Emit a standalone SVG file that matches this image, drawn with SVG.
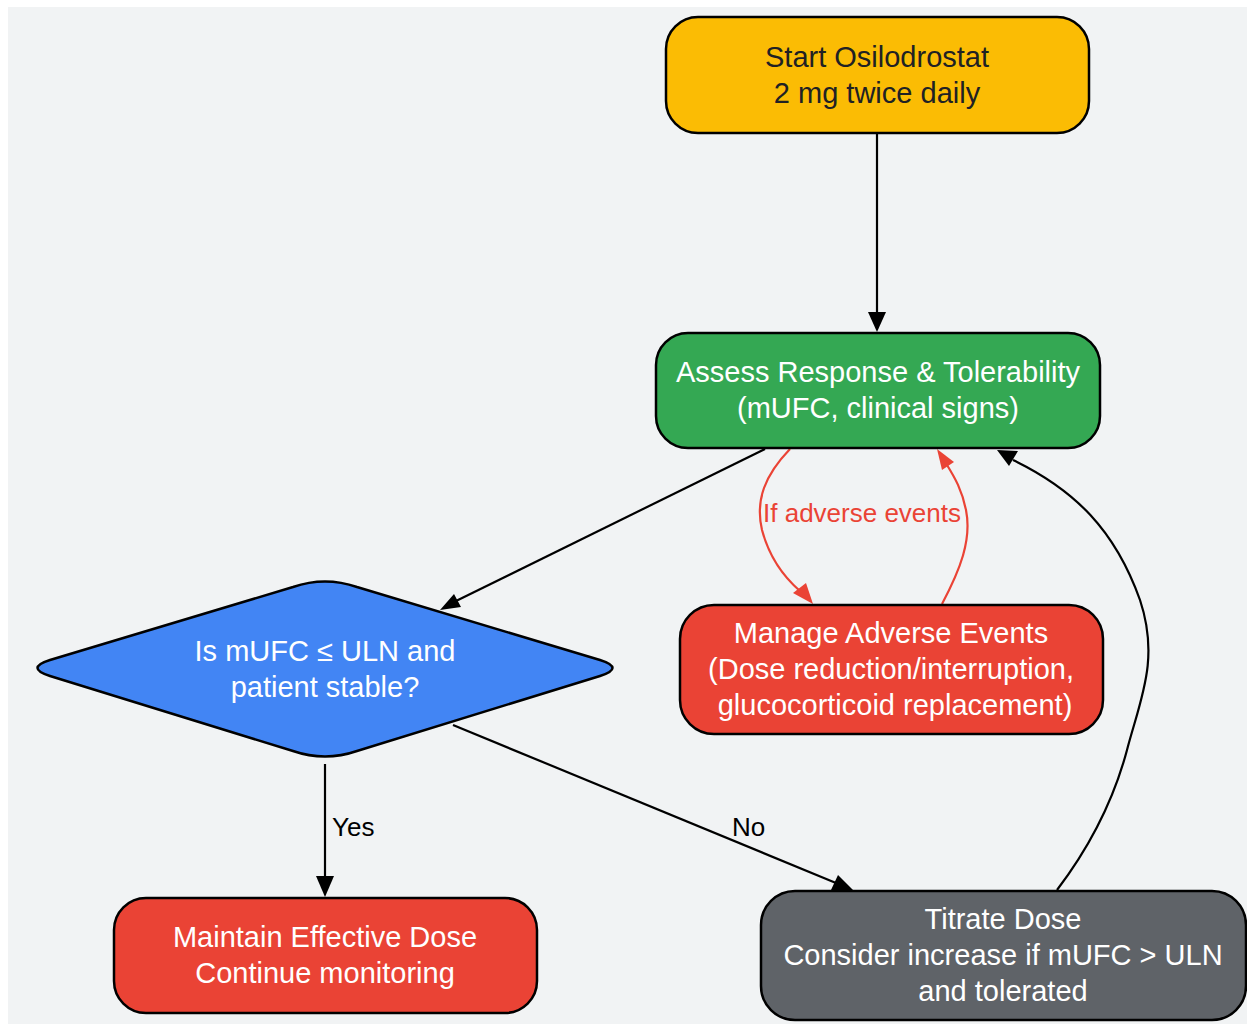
<svg xmlns="http://www.w3.org/2000/svg" width="1247" height="1024" viewBox="0 0 1247 1024">
<defs>
<style>
.node{stroke:#000;stroke-width:2.5}
.t{font-family:"Liberation Sans",Arial,sans-serif;font-size:29px;text-anchor:middle}
.w{fill:#fff}
.e{fill:none;stroke:#000;stroke-width:2.2}
.r{fill:none;stroke:#ea4335;stroke-width:2.2}
.lbl{font-family:"Liberation Sans",Arial,sans-serif;font-size:26px}
</style>
</defs>
<rect x="0" y="0" width="1247" height="1024" fill="#ffffff"/>
<rect x="8" y="7" width="1239" height="1017" fill="#f1f3f4"/>
<g id="connectors">
<path class="e" d="M765,449 L456,601"/>
<path d="M440,610 L454,594 L461,607 z" fill="#000"/>
<path class="e" d="M877,133 L877,314"/>
<path d="M877,332 L868,312 L886,312 z" fill="#000"/>
<path class="r" d="M790,449 C765,475 755,500 762,530 C770,560 785,578 800,591"/>
<path d="M813,604 L793,593 L806,583 z" fill="#ea4335"/>
<path class="r" d="M942,604 C960,570 972,540 966,510 C962,490 955,478 947,465"/>
<path d="M937,449 L954,462 L942,470 z" fill="#ea4335"/>
<path class="e" d="M325,764 L325,878"/>
<path d="M325,897 L316,876 L334,876 z" fill="#000"/>
<path class="e" d="M453,725 L836,883"/>
<path d="M853,890 L831,890 L838,875 z" fill="#000"/>
<path class="e" d="M1057,890 C1095,840 1115,795 1127,750 C1140,700 1160,660 1140,600 C1115,530 1075,490 1013,460"/>
<path d="M997,450 L1018,451 L1009,466 z" fill="#000"/>
<text class="lbl" x="862" y="522" text-anchor="middle" fill="#ea4335">If adverse events</text>
<text class="lbl" x="332" y="836" fill="#000">Yes</text>
<text class="lbl" x="732" y="836" fill="#000">No</text>
</g>
<g id="start">
<rect class="node" x="666" y="17" width="423" height="116" rx="32" fill="#fbbc04"/>
<text class="t" x="877" y="67" fill="#202124">Start Osilodrostat</text>
<text class="t" x="877" y="103" fill="#202124">2 mg twice daily</text>
</g>
<g id="assess">
<rect class="node" x="656" y="333" width="444" height="115" rx="32" fill="#34a853"/>
<text class="t w" x="878" y="382">Assess Response &amp; Tolerability</text>
<text class="t w" x="878" y="418">(mUFC, clinical signs)</text>
</g>
<g id="decision">
<path class="node" d="M293,587 Q325,576 357,587 L600,660 Q625,668 600,676 L357,751 Q325,762 293,751 L50,676 Q25,668 50,660 Z" fill="#4285f4"/>
<text class="t w" x="325" y="661">Is mUFC ≤ ULN and</text>
<text class="t w" x="325" y="697">patient stable?</text>
</g>
<g id="manage">
<rect class="node" x="680" y="605" width="423" height="129" rx="34" fill="#ea4335"/>
<text class="t w" x="891" y="643">Manage Adverse Events</text>
<text class="t w" x="891" y="679">(Dose reduction/interruption,</text>
<text class="t w" x="895" y="715">glucocorticoid replacement)</text>
</g>
<g id="maintain">
<rect class="node" x="114" y="898" width="423" height="115" rx="32" fill="#ea4335"/>
<text class="t w" x="325" y="947">Maintain Effective Dose</text>
<text class="t w" x="325" y="983">Continue monitoring</text>
</g>
<g id="titrate">
<rect class="node" x="761" y="891" width="485" height="129" rx="34" fill="#5f6368"/>
<text class="t w" x="1003" y="929">Titrate Dose</text>
<text class="t w" x="1003" y="965">Consider increase if mUFC &gt; ULN</text>
<text class="t w" x="1003" y="1001">and tolerated</text>
</g>
</svg>
